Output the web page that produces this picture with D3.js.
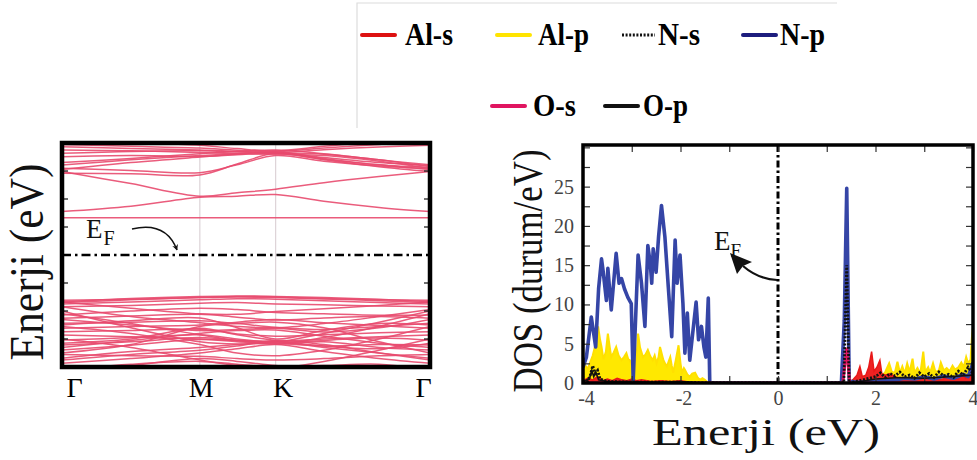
<!DOCTYPE html>
<html><head><meta charset="utf-8">
<script src="https://cdn.jsdelivr.net/npm/d3@7"></script>
<style>
body{margin:0;background:#fff}
svg{display:block}
text{font-family:"Liberation Serif","Times New Roman",Times,serif}
</style>
</head><body>
<svg id="c" width="977" height="460"></svg>
<script>
// ---------- DATA ----------
// Band structure: high-symmetry path
const kLabels = ["Γ", "M", "K", "Γ"];
const kTicks = [0, 1, 1.55, 2.67];
const kGrid = [0, 0.5, 1, 1.27, 1.55, 1.9, 2.3, 2.67];
const bandYTicks = [-3, -2, -1, 1, 2, 3];
const conductionBands = [
  [1.33,1.33,1.33,1.33,1.33,1.33,1.33,1.33],
  [1.55,1.74,2.06,2.10,2.16,1.92,1.70,1.55],
  [2.98,2.55,2.10,2.22,2.35,2.58,2.80,2.98],
  [2.92,2.90,2.86,3.25,3.63,3.40,3.15,2.98],
  [3.10,3.02,2.94,3.22,3.55,3.35,3.18,3.08],
  [3.21,3.40,3.55,3.62,3.66,3.48,3.30,3.20],
  [3.05,3.30,3.50,3.60,3.68,3.45,3.22,3.05],
  [3.51,3.55,3.52,3.58,3.63,3.42,3.22,3.12],
  [3.63,3.70,3.72,3.68,3.64,3.60,3.40,3.15],
  [3.87,3.80,3.75,3.70,3.66,3.76,3.86,3.92],
  [3.95,3.88,3.82,3.74,3.69,3.82,3.95,4.10],
  [4.10,4.00,3.92,3.80,3.72,3.88,4.05,4.20],
  [3.30,3.45,3.62,3.70,3.75,3.62,3.40,3.22],
  [3.75,3.72,3.66,3.62,3.60,3.55,3.35,3.10]
];
const valenceBands = [
  [-1.67,-1.55,-1.48,-1.46,-1.48,-1.52,-1.58,-1.67],
  [-1.70,-1.60,-1.52,-1.50,-1.52,-1.57,-1.63,-1.70],
  [-1.62,-1.58,-1.52,-1.48,-1.50,-1.55,-1.60,-1.62],
  [-1.75,-1.68,-1.60,-1.56,-1.58,-1.63,-1.70,-1.75],
  [-1.85,-1.80,-1.72,-1.70,-1.75,-1.78,-1.82,-1.85],
  [-1.68,-1.90,-2.10,-2.12,-2.02,-1.92,-1.80,-1.68],
  [-2.14,-2.00,-1.90,-1.95,-2.05,-2.10,-2.15,-2.14],
  [-2.26,-2.18,-2.12,-2.22,-2.32,-2.25,-2.20,-2.26],
  [-1.85,-2.20,-2.42,-2.55,-2.60,-2.45,-2.20,-1.95],
  [-2.44,-2.40,-2.35,-2.45,-2.58,-2.66,-2.55,-2.44],
  [-2.62,-2.55,-2.50,-2.40,-2.30,-2.42,-2.52,-2.62],
  [-2.74,-2.70,-2.65,-2.82,-2.90,-2.85,-2.78,-2.74],
  [-2.86,-2.92,-3.00,-3.05,-3.08,-3.00,-2.92,-2.86],
  [-3.04,-2.95,-2.85,-3.00,-3.12,-3.05,-2.96,-3.04],
  [-3.21,-3.10,-2.95,-3.05,-3.15,-3.25,-3.20,-3.21],
  [-2.00,-2.60,-3.10,-3.18,-3.12,-2.80,-2.40,-2.00],
  [-3.39,-3.22,-3.02,-3.10,-3.18,-3.10,-3.30,-3.39],
  [-3.69,-3.45,-3.30,-3.20,-3.10,-3.30,-3.50,-3.69],
  [-3.87,-3.70,-3.50,-3.35,-3.20,-3.45,-3.70,-3.87],
  [-2.55,-2.80,-3.20,-3.50,-3.60,-3.40,-3.00,-2.55],
  [-3.55,-3.60,-3.62,-3.70,-3.75,-3.70,-3.60,-3.55],
  [-4.10,-3.90,-3.80,-3.90,-4.00,-3.95,-3.90,-4.10],
  [-3.00,-3.30,-3.75,-3.95,-4.05,-3.80,-3.40,-3.00],
  [-2.30,-2.50,-2.70,-2.66,-2.62,-2.75,-2.60,-2.30],
  [-4.20,-3.95,-3.70,-3.80,-3.95,-4.10,-4.20,-4.20],
  [-3.30,-3.05,-2.80,-2.70,-2.68,-2.90,-3.15,-3.30],
  [-2.50,-2.35,-2.25,-2.60,-3.00,-2.70,-2.45,-2.50],
  [-3.50,-3.20,-2.55,-2.45,-2.40,-2.60,-3.10,-3.50],
  [-2.10,-2.45,-2.85,-3.05,-3.18,-2.95,-2.55,-2.10],
  [-3.15,-3.00,-2.62,-2.85,-3.05,-3.25,-3.35,-3.15],
  [-3.75,-3.55,-3.40,-3.25,-3.05,-3.20,-3.50,-3.75]
];

// PDOS series: [energy (eV), DOS (states/eV)]
const dosXTicks = [-4, -2, 0, 2, 4];
const dosYTicks = [0, 5, 10, 15, 20, 25];
const alP = [[-4.0,1.5],[-3.95,2.2],[-3.9,1.8],[-3.86,2.5],[-3.8,3.5],[-3.74,5.0],[-3.69,7.2],[-3.65,5.5],[-3.62,4.6],[-3.58,3.0],[-3.53,4.0],[-3.49,6.3],[-3.45,4.5],[-3.42,3.3],[-3.37,3.9],[-3.32,4.6],[-3.27,3.5],[-3.21,2.9],[-3.16,3.3],[-3.11,3.8],[-3.07,3.0],[-3.04,2.9],[-2.99,2.2],[-2.94,1.7],[-2.9,3.5],[-2.87,6.3],[-2.83,4.5],[-2.77,3.3],[-2.72,3.6],[-2.67,4.2],[-2.62,3.4],[-2.57,2.9],[-2.53,3.5],[-2.49,2.5],[-2.45,3.3],[-2.42,4.6],[-2.38,3.6],[-2.35,2.9],[-2.31,2.4],[-2.28,2.1],[-2.24,2.8],[-2.21,3.3],[-2.18,2.2],[-2.15,1.3],[-2.1,2.8],[-2.04,4.8],[-2.0,2.5],[-1.97,1.3],[-1.93,1.9],[-1.91,1.7],[-1.86,1.1],[-1.81,0.8],[-1.76,1.2],[-1.7,1.3],[-1.65,0.7],[-1.6,0.4],[-1.55,0.6],[-1.5,0.4],[-1.45,0.1],[-1.4,0],[1.45,0],[1.55,0.3],[1.65,0.5],[1.75,0.8],[1.85,1.0],[1.95,0.8],[2.05,1.2],[2.15,1.0],[2.2,1.4],[2.28,2.5],[2.34,1.3],[2.4,1.4],[2.45,2.7],[2.5,1.3],[2.55,2.1],[2.6,1.2],[2.65,2.5],[2.7,1.4],[2.76,3.1],[2.8,1.3],[2.86,1.9],[2.92,1.2],[2.98,4.0],[3.02,1.4],[3.08,2.0],[3.12,1.3],[3.18,2.5],[3.23,1.4],[3.3,1.6],[3.34,2.6],[3.4,1.6],[3.46,1.9],[3.52,1.5],[3.58,2.2],[3.63,1.7],[3.7,2.0],[3.76,2.6],[3.81,2.0],[3.86,3.3],[3.9,2.5],[3.95,3.0],[3.98,6.0],[4.0,7.1]];
const alS = [[-4,0.3],[-3.9,0.6],[-3.8,0.4],[-3.7,0.8],[-3.6,0.3],[-3.5,0.5],[-3.4,0.3],[-3.3,0.6],[-3.2,0.4],[-3.1,0.3],[-3.0,0.5],[-2.9,0.3],[-2.8,0.4],[-2.6,0.2],[-2.4,0.3],[-2.2,0.2],[-2.0,0.3],[-1.8,0.1],[-1.6,0],[1.45,0],[1.55,0.5],[1.62,1.0],[1.68,2.1],[1.73,0.8],[1.8,1.0],[1.86,2.0],[1.92,4.0],[1.97,1.5],[2.03,2.0],[2.09,2.9],[2.13,1.2],[2.2,1.0],[2.3,1.2],[2.4,0.8],[2.5,0.6],[2.7,0.7],[2.9,0.5],[3.1,0.6],[3.3,0.4],[3.5,0.7],[3.7,0.5],[3.77,1.2],[3.85,0.6],[3.95,1.0],[4.0,1.6]];
const nP = [[-4.0,2.0],[-3.93,3.3],[-3.83,8.4],[-3.74,4.6],[-3.68,12.0],[-3.62,15.8],[-3.59,14.4],[-3.52,10.5],[-3.49,14.6],[-3.42,9.3],[-3.32,16.5],[-3.26,12.7],[-3.21,13.3],[-3.15,12.0],[-3.08,10.9],[-3.01,10.1],[-2.97,0.4],[-2.87,16.3],[-2.8,12.7],[-2.73,7.2],[-2.67,17.5],[-2.62,15.2],[-2.59,12.7],[-2.56,17.1],[-2.5,14.1],[-2.45,18.6],[-2.39,22.6],[-2.32,18.6],[-2.25,12.2],[-2.18,5.9],[-2.11,18.2],[-2.07,12.7],[-2.01,16.3],[-1.95,10.1],[-1.91,3.8],[-1.86,8.9],[-1.81,2.9],[-1.68,10.3],[-1.63,5.5],[-1.57,7.2],[-1.52,4.6],[-1.48,3.3],[-1.43,10.8],[-1.4,0.2],[-1.3,0],[1.3,0],[1.36,8.0],[1.41,24.8],[1.46,0.3],[1.6,0.1],[2.0,0.2],[2.4,0.4],[2.6,0.6],[2.8,0.5],[3.0,0.8],[3.2,0.5],[3.4,0.9],[3.6,0.6],[3.8,1.1],[3.9,0.8],[3.96,1.8],[4.0,2.6]];
const oS = [[-4,0],[1.33,0],[1.41,4.5],[1.47,0],[4,0]];
const nS = [[-4,0],[-3.9,0.3],[-3.85,1.0],[-3.8,2.2],[-3.75,1.2],[-3.7,1.6],[-3.65,0.5],[-3.5,0.2],[-3.0,0.1],[-2.0,0.1],[-1.5,0],[1.35,0],[1.41,15.0],[1.46,0],[1.6,0.2],[1.8,0.5],[2.0,0.8],[2.1,1.3],[2.2,0.7],[2.3,1.2],[2.4,0.9],[2.5,1.4],[2.6,0.8],[2.7,1.0],[2.8,0.6],[2.9,1.3],[3.0,0.8],[3.1,1.2],[3.2,0.7],[3.3,1.4],[3.4,0.9],[3.5,1.1],[3.6,0.7],[3.7,1.5],[3.8,1.0],[3.9,2.0],[4.0,1.2]];
const oP = [[-4,0.2],[-3.87,0.5],[-3.82,1.6],[-3.78,0.8],[-3.74,1.4],[-3.68,0.4],[-3.5,0.2],[-3.0,0.2],[-2.5,0.1],[-2.0,0.2],[-1.6,0],[1.5,0],[2.0,0.5],[2.5,0.7],[3.0,0.6],[3.5,0.8],[4.0,1.0]];

const legendNames = ["Al-s", "Al-p", "N-s", "N-p", "O-s", "O-p"];
const legendColors = ["#dd1111", "#ffe400", "#111111", "#1d1d7e", "#e01560", "#111111"];

// ---------- DRAW ----------
const FONT = '"Liberation Serif","Times New Roman",Times,serif';
const svg = d3.select("#c");
const BAND = "#e84a6e";

// ===== Band structure panel =====
const bx = d3.scaleLinear().domain([0, 2.67]).range([62, 430]);
const by = d3.scaleLinear().domain([-4, 4]).range([367, 143]);
svg.append("clipPath").attr("id", "bclip").append("rect")
  .attr("x", bx(0)).attr("y", by(4)).attr("width", bx(2.67) - bx(0)).attr("height", by(-4) - by(4));
const bg = svg.append("g").attr("clip-path", "url(#bclip)");
bg.selectAll("line.kg").data(kTicks.slice(1, 3)).join("line")
  .attr("x1", d => bx(d)).attr("x2", d => bx(d)).attr("y1", by(4)).attr("y2", by(-4))
  .attr("stroke", "#ddd3d7").attr("stroke-width", 1.2);
const bline = d3.line().x((d, i) => bx(kGrid[i])).y(d => by(d)).curve(d3.curveCatmullRom.alpha(0.5));
bg.selectAll("path.band").data(conductionBands.concat(valenceBands)).join("path")
  .attr("d", bline).attr("fill", "none").attr("stroke", BAND).attr("stroke-width", 1.5).attr("stroke-opacity", 0.9);
bg.append("line").attr("x1", bx(0)).attr("x2", bx(2.67)).attr("y1", by(0)).attr("y2", by(0))
  .attr("stroke", "#000").attr("stroke-width", 2.4).attr("stroke-dasharray", "9,4,2.5,4");
// ticks
[["L", bx(0), 1], ["R", bx(2.67), -1]].forEach(([n, x0, s]) => {
  svg.selectAll("line.bt" + n).data(bandYTicks).join("line")
    .attr("x1", x0).attr("x2", x0 + s * 6).attr("y1", d => by(d)).attr("y2", d => by(d))
    .attr("stroke", "#222").attr("stroke-width", 1.3);
});
svg.append("rect").attr("x", bx(0)).attr("y", by(4)).attr("width", bx(2.67) - bx(0)).attr("height", by(-4) - by(4))
  .attr("fill", "none").attr("stroke", "#000").attr("stroke-width", 4.5);
// k labels via axis
const kOff = [12, 1, 7, -7];
const kAxis = svg.append("g").attr("transform", `translate(0,${by(-4)})`)
  .call(d3.axisBottom(bx).tickValues(kTicks).tickSize(0).tickPadding(10).tickFormat((d, i) => kLabels[i]));
kAxis.attr("font-family", FONT);
kAxis.select(".domain").remove();
kAxis.selectAll("text").attr("font-size", 28).attr("fill", "#000")
  .style("font-family", FONT).attr("dx", (d, i) => kOff[i]);
// y label
svg.append("text").attr("transform", "translate(43,262) rotate(-90)").attr("text-anchor", "middle")
  .attr("font-family", FONT).attr("font-size", 48).attr("textLength", 197).attr("lengthAdjust", "spacingAndGlyphs").attr("fill", "#111")
  .text("Enerji (eV)");
// E_F label and arrow
const ef1 = svg.append("text").attr("x", 86).attr("y", 238).attr("font-family", FONT).attr("font-size", 27).attr("fill", "#111");
ef1.append("tspan").text("E");
ef1.append("tspan").attr("font-size", 20).attr("dy", 7).attr("dx", 1).text("F");
const defs = svg.append("defs");
defs.append("marker").attr("id", "ah1").attr("viewBox", "0 0 10 10").attr("refX", 9).attr("refY", 5)
  .attr("markerWidth", 6).attr("markerHeight", 6).attr("orient", "auto").attr("markerUnits", "userSpaceOnUse")
  .append("path").attr("d", "M0,0 L10,5 L0,10 L3,5 Z").attr("fill", "#111");
svg.append("path").attr("d", "M132,229 Q166,221 177,250").attr("fill", "none").attr("stroke", "#111")
  .attr("stroke-width", 1.5).attr("marker-end", "url(#ah1)");

// ===== DOS panel =====
const dx = d3.scaleLinear().domain([-4, 4]).range([583, 973]);
const dy = d3.scaleLinear().domain([0, 30.3]).range([383, 145]);
svg.append("clipPath").attr("id", "dclip").append("rect")
  .attr("x", dx(-4)).attr("y", dy(30.3)).attr("width", dx(4) - dx(-4)).attr("height", dy(0) - dy(30.3));
const dg = svg.append("g").attr("clip-path", "url(#dclip)");
const area = d3.area().x(d => dx(d[0])).y0(dy(0)).y1(d => dy(d[1]));
const line = d3.line().x(d => dx(d[0])).y(d => dy(d[1]));
dg.append("path").attr("d", area(alP)).attr("fill", "#ffe800").attr("stroke", "#ffe000").attr("stroke-width", 2);
dg.append("path").attr("d", area(alS)).attr("fill", "#ee2222").attr("stroke", "#e81818").attr("stroke-width", 1.5);
dg.append("path").attr("d", line(nP)).attr("fill", "none").attr("stroke", "#3545a6").attr("stroke-width", 3.6).attr("stroke-linejoin", "round");
dg.append("path").attr("d", line(oS)).attr("fill", "none").attr("stroke", "#e01560").attr("stroke-width", 3);
dg.append("path").attr("d", line(oP)).attr("fill", "none").attr("stroke", "#111").attr("stroke-width", 1.6);
dg.append("path").attr("d", line(nS)).attr("fill", "none").attr("stroke", "#111").attr("stroke-width", 2.8).attr("stroke-dasharray", "2,1.6");
// E_F vertical
dg.append("line").attr("x1", dx(0)).attr("x2", dx(0)).attr("y1", dy(30.3)).attr("y2", dy(0))
  .attr("stroke", "#000").attr("stroke-width", 3).attr("stroke-dasharray", "7,3,2.5,3");
// ticks (inside) via axes
const minorY = d3.range(0, 30.1, 2.5);
const minorX = d3.range(-4, 4.01, 1);
const styleTicks = g => { g.select(".domain").remove(); g.selectAll("line").attr("stroke", "#333").attr("stroke-width", 1.2); };
svg.append("g").attr("transform", `translate(${dx(-4)},0)`).call(d3.axisLeft(dy).tickValues(minorY).tickSize(-7).tickFormat("")).call(styleTicks);
svg.append("g").attr("transform", `translate(${dx(4)},0)`).call(d3.axisRight(dy).tickValues(minorY).tickSize(-7).tickFormat("")).call(styleTicks);
svg.append("g").attr("transform", `translate(0,${dy(0)})`).call(d3.axisBottom(dx).tickValues(minorX).tickSize(-7).tickFormat("")).call(styleTicks);
svg.append("g").attr("transform", `translate(0,${dy(30.3)})`).call(d3.axisTop(dx).tickValues(minorX).tickSize(-7).tickFormat("")).call(styleTicks);
// labels
const yl = svg.append("g").attr("transform", `translate(${dx(-4)},0)`)
  .call(d3.axisLeft(dy).tickValues(dosYTicks).tickSize(0).tickPadding(9));
yl.attr("font-family", FONT);
yl.select(".domain").remove();
yl.selectAll("text").attr("font-size", 20).attr("fill", "#444").style("font-family", FONT);
const xl = svg.append("g").attr("transform", `translate(0,${dy(0)})`)
  .call(d3.axisBottom(dx).tickValues(dosXTicks).tickSize(0).tickPadding(8).tickFormat(d => String(d)));
xl.attr("font-family", FONT);
xl.select(".domain").remove();
xl.selectAll("text").attr("font-size", 20).attr("fill", "#444").style("font-family", FONT)
  .attr("dx", d => d < 0 ? 3 : 0);
// frame
svg.append("rect").attr("x", dx(-4)).attr("y", dy(30.3)).attr("width", dx(4) - dx(-4)).attr("height", dy(0) - dy(30.3))
  .attr("fill", "none").attr("stroke", "#000").attr("stroke-width", 3.5);
// axis titles
svg.append("text").attr("x", 766).attr("y", 445).attr("text-anchor", "middle").attr("font-family", FONT).attr("font-size", 38)
  .attr("textLength", 228).attr("lengthAdjust", "spacingAndGlyphs").attr("fill", "#111").text("Enerji (eV)");
svg.append("text").attr("transform", "translate(542,271) rotate(-90)").attr("text-anchor", "middle")
  .attr("font-family", FONT).attr("font-size", 43).attr("textLength", 243).attr("lengthAdjust", "spacingAndGlyphs").attr("fill", "#111")
  .text("DOS (durum/eV)");
// E_F label and arrow
const ef2 = svg.append("text").attr("x", 714).attr("y", 250).attr("font-family", FONT).attr("font-size", 27).attr("fill", "#111");
ef2.append("tspan").text("E");
ef2.append("tspan").attr("font-size", 19).attr("dy", 7).attr("dx", 0).text("F");
svg.append("path").attr("d", "M777,280 Q758,279 743,266").attr("fill", "none").attr("stroke", "#111").attr("stroke-width", 2.2);
svg.append("path").attr("d", "M730,253 L752,262 L743,266 L737,274 Z").attr("fill", "#111");

// ===== Legend =====
svg.append("path").attr("d", "M357,128 V3 H837").attr("fill", "none").attr("stroke", "#dcdcdc").attr("stroke-width", 1.2);
const legPos = [[362, 35, 405, 48], [497, 35, 538, 51], [622, 35, 658, 42], [743, 35, 780, 45], [492, 106, 533, 43], [605, 106, 643, 45]];
legendNames.forEach((name, i) => {
  const [lx, ly, tx, tl] = legPos[i];
  const ln = svg.append("line").attr("x1", lx).attr("x2", lx + 33).attr("y1", ly).attr("y2", ly)
    .attr("stroke", legendColors[i]).attr("stroke-width", 4).attr("stroke-linecap", "round");
  if (name === "N-s") ln.attr("stroke-dasharray", "2,1.6").attr("stroke-linecap", "butt").attr("stroke-width", 3);
  svg.append("text").attr("x", tx).attr("y", ly + 10).attr("font-family", FONT).attr("font-size", 32).attr("font-weight", "bold")
    .attr("textLength", tl).attr("lengthAdjust", "spacingAndGlyphs").attr("fill", "#000").text(name);
});
</script>
</body></html>
